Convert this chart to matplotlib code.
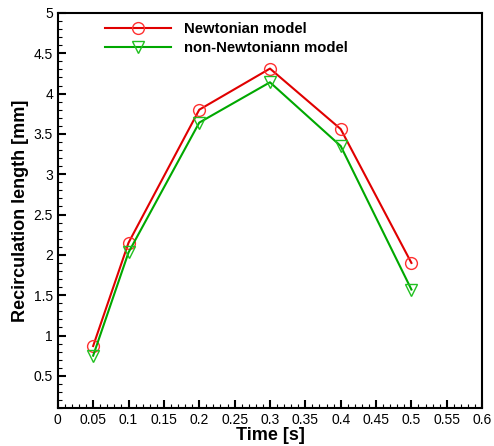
import matplotlib.pyplot as plt
import numpy as np
from matplotlib.ticker import MultipleLocator

plt.rcParams['font.family'] = ['Liberation Sans', 'DejaVu Sans']

time = [0.05, 0.1, 0.2, 0.3, 0.4, 0.5]
newtonian = [0.87, 2.15, 3.80, 4.31, 3.56, 1.90]
non_newtonian = [0.75, 2.03, 3.64, 4.14, 3.35, 1.57]

xtick_labels = ['0', '0.05', '0.1', '0.15', '0.2', '0.25', '0.3', '0.35',
                '0.4', '0.45', '0.5', '0.55', '0.6']
ytick_labels = ['0.5', '1', '1.5', '2', '2.5', '3', '3.5', '4', '4.5', '5']

fig = plt.figure(figsize=(4.94, 4.46), dpi=100)
ax = fig.add_axes([0.117, 0.085, 0.859, 0.886])

ax.plot(time, newtonian, color='#e00000', lw=1.5, marker='o', ms=8.5,
        mfc='none', mec='#ff3030', mew=1, label='Newtonian model')
ax.plot(time, non_newtonian, color='#00a800', lw=1.5, marker='v', ms=8,
        mfc='none', mec='#20c020', mew=1, label='non-Newtoniann model')

ax.set_xlim(0, 0.6)
ax.set_ylim(0.1, 5)
ax.set_xticks(np.linspace(0, 0.6, 13))
ax.set_xticklabels(xtick_labels)
ax.set_yticks(np.linspace(0.5, 5, 10))
ax.set_yticklabels(ytick_labels)
ax.xaxis.set_minor_locator(MultipleLocator(0.01))
ax.yaxis.set_minor_locator(MultipleLocator(0.1))
ax.tick_params(which='major', direction='in', length=6, width=1.5, labelsize=10)
ax.tick_params(which='minor', direction='in', length=3, width=0.8)
for s in ax.spines.values():
    s.set_linewidth(1.5)

ax.set_xlabel('Time [s]', fontsize=13, fontweight='bold', labelpad=0)
ax.set_ylabel('Recirculation length [mm]', fontsize=13, fontweight='bold', labelpad=3)

ax.legend(loc='upper left', bbox_to_anchor=(0.08, 1.01), frameon=False,
          handlelength=4.4, handletextpad=0.9, labelspacing=0.3,
          prop={'weight': 'bold', 'size': 10.7})

fig.savefig('out.png', dpi=100)
